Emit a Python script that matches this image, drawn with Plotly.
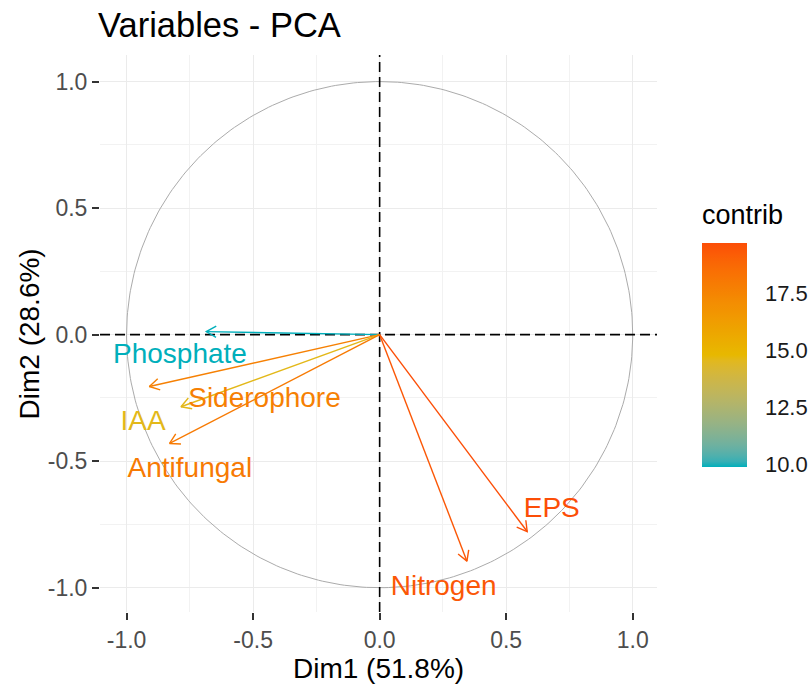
import numpy as np
import plotly.graph_objects as go

# Variable loadings on the first two principal components
variables = ["Phosphate", "Siderophore", "IAA", "Antifungal", "EPS", "Nitrogen"]
dim1 = [-0.685, -0.910, -0.785, -0.830, 0.583, 0.345]
dim2 = [0.012, -0.205, -0.285, -0.430, -0.778, -0.895]
contrib = [9.9, 17.7, 14.6, 18.0, 19.7, 19.4]

# Repelled label placements (data units)
label_x = [-0.789, -0.455, -0.935, -0.750, 0.680, 0.253]
label_y = [-0.084, -0.258, -0.349, -0.535, -0.693, -1.003]

axis_ticks = [-1.0, -0.5, 0.0, 0.5, 1.0]
axis_ticktext = ["-1.0", "-0.5", "0.0", "0.5", "1.0"]
cbar_ticks = [10.0, 12.5, 15.0, 17.5]
cbar_ticktext = ["10.0", "12.5", "15.0", "17.5"]

xlim = [-1.105, 1.096]
ylim = [-1.096, 1.105]

FONT = "Liberation Sans, Arial, sans-serif"
gradient_cols = ["#00AFBB", "#E7B800", "#FC4E07"]


# --- CIELAB colour ramp -------------------------------------------------
def _hex_to_rgb(h):
    h = h.lstrip("#")
    return np.array([int(h[i:i + 2], 16) / 255 for i in (0, 2, 4)])


def _srgb_to_lin(c):
    return np.where(c <= 0.04045, c / 12.92, ((c + 0.055) / 1.055) ** 2.4)


def _lin_to_srgb(c):
    return np.where(c <= 0.0031308, 12.92 * c, 1.055 * np.power(np.clip(c, 0, None), 1 / 2.4) - 0.055)


_M = np.array([[0.4124, 0.3576, 0.1805],
               [0.2126, 0.7152, 0.0722],
               [0.0193, 0.1192, 0.9505]])
_Minv = np.linalg.inv(_M)
_WHITE = np.array([0.95047, 1.0, 1.08883])


def _f(t):
    return np.where(t > (6 / 29) ** 3, np.cbrt(t), t / (3 * (6 / 29) ** 2) + 4 / 29)


def _finv(t):
    return np.where(t > 6 / 29, t ** 3, 3 * (6 / 29) ** 2 * (t - 4 / 29))


def hex_to_lab(h):
    xyz = _M @ _srgb_to_lin(_hex_to_rgb(h)) / _WHITE
    fx, fy, fz = _f(xyz)
    return np.array([116 * fy - 16, 500 * (fx - fy), 200 * (fy - fz)])


def lab_to_hex(lab):
    L, a, b = lab
    fy = (L + 16) / 116
    xyz = np.array([_finv(fy + a / 500), _finv(fy), _finv(fy - b / 200)]) * _WHITE
    rgb = np.clip(_lin_to_srgb(_Minv @ xyz), 0, 1)
    return "#%02X%02X%02X" % tuple(int(round(v * 255)) for v in rgb)


_labs = [hex_to_lab(c) for c in gradient_cols]


def ramp(t):
    t = min(max(t, 0.0), 1.0)
    seg = min(int(t * (len(_labs) - 1)), len(_labs) - 2)
    local = t * (len(_labs) - 1) - seg
    return lab_to_hex(_labs[seg] * (1 - local) + _labs[seg + 1] * local)


cmin, cmax = min(contrib), max(contrib)
colors = [ramp((c - cmin) / (cmax - cmin)) for c in contrib]
colorscale = [[s, ramp(s)] for s in np.linspace(0, 1, 41)]

fig = go.Figure()

# Correlation circle
t = np.linspace(0, 2 * np.pi, 361)
fig.add_trace(go.Scatter(x=np.cos(t), y=np.sin(t), mode="lines",
                         line=dict(color="#ABABAB", width=1),
                         hoverinfo="skip", showlegend=False))

# Dashed reference lines through the origin
fig.add_trace(go.Scatter(x=xlim, y=[0, 0], mode="lines",
                         line=dict(color="black", width=1.6, dash="10px,5px"),
                         hoverinfo="skip", showlegend=False))
fig.add_trace(go.Scatter(x=[0, 0], y=ylim, mode="lines",
                         line=dict(color="black", width=1.6, dash="10px,5px"),
                         hoverinfo="skip", showlegend=False))

# Arrows with open heads
head_len = 0.045
head_ang = np.deg2rad(30)
for name, x, y, col in zip(variables, dim1, dim2, colors):
    th = np.arctan2(y, x)
    hx1 = x - head_len * np.cos(th - head_ang)
    hy1 = y - head_len * np.sin(th - head_ang)
    hx2 = x - head_len * np.cos(th + head_ang)
    hy2 = y - head_len * np.sin(th + head_ang)
    fig.add_trace(go.Scatter(
        x=[0, x, None, hx1, x, hx2], y=[0, y, None, hy1, y, hy2],
        mode="lines", line=dict(color=col, width=1.4),
        hoverinfo="skip", showlegend=False))

# Variable names
fig.add_trace(go.Scatter(
    x=label_x, y=label_y, mode="text", text=variables,
    textposition="middle center",
    textfont=dict(family=FONT, size=28, color=colors),
    hoverinfo="skip", showlegend=False))

# Colour key for contributions
plot_w, plot_h = 556.7, 557.0
bar_left_px, bar_w_px = 601.7, 45.0      # relative to plot-area left edge
bar_bottom_px, bar_len_px = 145.0, 224.0  # relative to plot-area bottom edge
bar_x0 = bar_left_px / plot_w
bar_x1 = (bar_left_px + bar_w_px) / plot_w

fig.add_trace(go.Scatter(
    x=[None] * len(contrib), y=[None] * len(contrib), mode="markers",
    marker=dict(color=contrib, colorscale=colorscale, cmin=cmin, cmax=cmax,
                showscale=True,
                colorbar=dict(
                    thickness=bar_w_px, thicknessmode="pixels",
                    len=bar_len_px, lenmode="pixels",
                    x=bar_x0, xanchor="left",
                    y=bar_bottom_px / plot_h, yanchor="bottom",
                    xpad=0, ypad=0, outlinewidth=0,
                    tickvals=cbar_ticks, ticktext=cbar_ticktext,
                    ticks="outside", ticklen=14, tickcolor="rgba(0,0,0,0)",
                    tickfont=dict(family=FONT, size=22, color="#1A1A1A"))),
    hoverinfo="skip", showlegend=False))

# White tick marks on both edges of the colour bar
shapes = []
for v in cbar_ticks:
    yp = (bar_bottom_px + (v - cmin) / (cmax - cmin) * bar_len_px) / plot_h
    for xa, xb in ((bar_x0, bar_x0 + 8 / plot_w), (bar_x1 - 8 / plot_w, bar_x1)):
        shapes.append(dict(type="line", xref="paper", yref="paper",
                           x0=xa, x1=xb, y0=yp, y1=yp,
                           line=dict(color="white", width=1.5), layer="above"))

axis_common = dict(
    tickvals=axis_ticks, ticktext=axis_ticktext,
    showgrid=True, gridcolor="#EBEBEB", gridwidth=1.3,
    minor=dict(dtick=0.25, tick0=0.25, showgrid=True, gridcolor="#F2F2F2", gridwidth=0.9),
    zeroline=False, showline=False,
    ticks="outside", ticklen=7, tickwidth=1.5, tickcolor="#333333",
    tickfont=dict(family=FONT, size=23, color="#4D4D4D"),
)

fig.update_layout(
    width=809, height=686,
    margin=dict(l=100, r=809 - 100 - plot_w, t=55, b=686 - 55 - plot_h, autoexpand=False),
    paper_bgcolor="white", plot_bgcolor="white",
    font=dict(family=FONT),
    title=dict(text="Variables - PCA", x=98 / 809, xanchor="left",
               xref="container", y=1 - 25 / 686, yanchor="middle",
               font=dict(family=FONT, size=34.5, color="black")),
    xaxis=dict(range=xlim, **axis_common),
    yaxis=dict(range=ylim, **axis_common),
    shapes=shapes,
    annotations=[
        dict(text="Dim1 (51.8%)", xref="paper", yref="paper",
             x=0.5, y=-56 / plot_h, xanchor="center", yanchor="middle",
             showarrow=False, font=dict(family=FONT, size=28, color="black")),
        dict(text="Dim2 (28.6%)", xref="paper", yref="paper",
             x=-70 / plot_w, y=0.5, xanchor="center", yanchor="middle",
             textangle=-90, showarrow=False,
             font=dict(family=FONT, size=28, color="black")),
        dict(text="contrib", xref="paper", yref="paper",
             x=(bar_left_px - 2) / plot_w, y=(612 - 215) / plot_h,
             xanchor="left", yanchor="middle", showarrow=False,
             font=dict(family=FONT, size=27, color="black")),
    ],
)

fig.write_html("out.html")
